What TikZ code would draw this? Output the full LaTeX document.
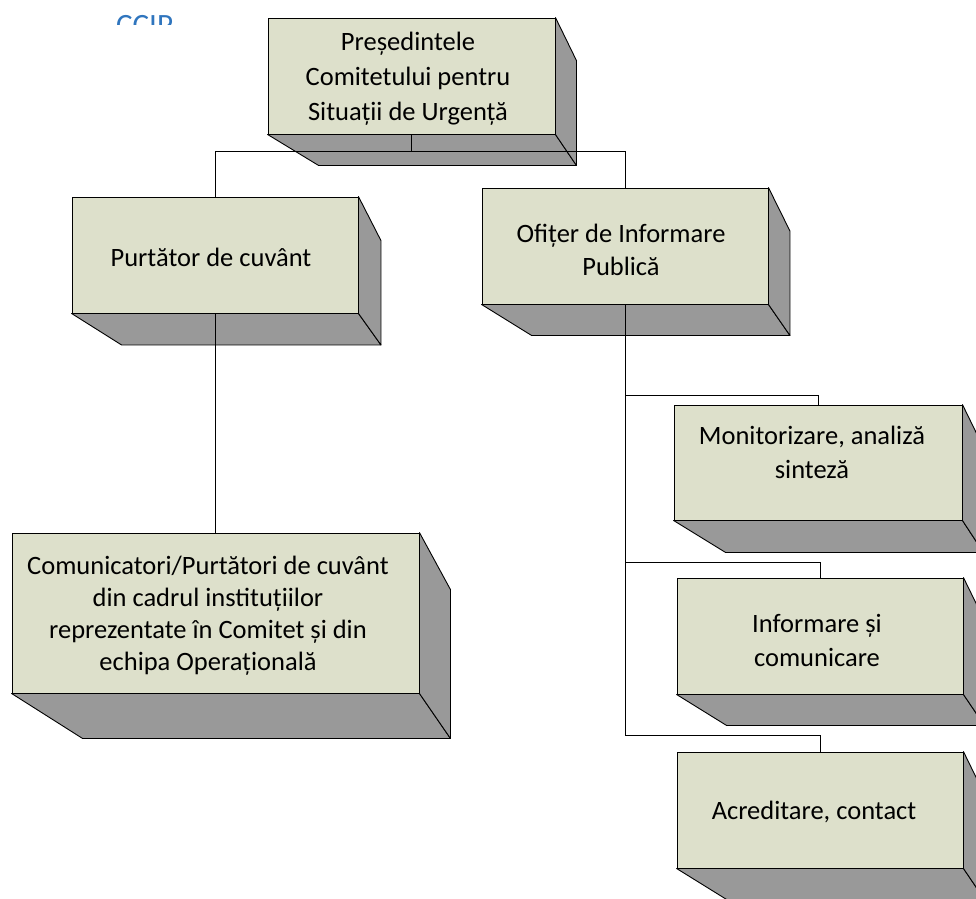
\documentclass[tikz,border=0pt]{standalone}
\usepackage{fontspec}
\setmainfont{Carlito}
\usetikzlibrary{calc}
\definecolor{frontc}{RGB}{221,224,203}
\definecolor{sidec}{RGB}{153,153,153}
\definecolor{hdrblue}{RGB}{47,117,190}
\tikzset{
  front/.style={draw=black, fill=frontc, line width=0.9pt, rectangle, inner sep=0pt},
  face/.style={draw=black, fill=sidec, line width=0.9pt, line join=round},
  lbl/.style={align=center, inner sep=0pt, font=\fontsize{26.5}{33}\selectfont, text=black},
  conn/.style={draw=black, line width=0.9pt}
}
% #1 node name, #2 dxL, #3 depth, #4 dxR, #5 top drop
\newcommand{\boxfaces}[5]{%
  \draw[face] (#1.south west) -- ++(#2,#3) -- ($(#1.south east)+(#4,#3)$) -- (#1.south east) -- cycle;
  \draw[face] (#1.north east) -- ++(#4,#5) -- ($(#1.south east)+(#4,#3)$) -- (#1.south east) -- cycle;
}
\begin{document}
\begin{tikzpicture}[x=1pt,y=-1pt]
\useasboundingbox (0,0) rectangle (976,898);
\clip (0,0) rectangle (976,898);
\fill[white] (0,0) rectangle (976,898);

% header (cut off)
\begin{scope}
  \clip (0,0) rectangle (976,24);
  \node[anchor=base west, inner sep=0pt, text=hdrblue, font=\fontsize{31}{36}\selectfont] (hdr) at (116,35) {CCIP};
\end{scope}

% boxes
\node[front, minimum width=287pt, minimum height=116pt] (b1) at (411.5,76) {};
\boxfaces{b1}{51}{31}{21}{43}
\node[front, minimum width=286pt, minimum height=116pt] (b2) at (215,255) {};
\boxfaces{b2}{50}{31.5}{22.5}{44}
\node[front, minimum width=286pt, minimum height=116pt] (b3) at (625,246) {};
\boxfaces{b3}{50}{31}{21.5}{43.5}
\node[front, minimum width=407pt, minimum height=160pt] (b4) at (215.5,613) {};
\boxfaces{b4}{71}{45}{31}{57}
\node[front, minimum width=288pt, minimum height=115pt] (b5) at (818,462.5) {};
\boxfaces{b5}{52}{32}{21}{43}
\node[front, minimum width=286pt, minimum height=116pt] (b6) at (820,636) {};
\boxfaces{b6}{50}{31}{21}{43}
\node[front, minimum width=286pt, minimum height=116pt] (b7) at (820,810) {};
\boxfaces{b7}{50}{31}{21}{43}

% labels
\node[lbl, font=\fontsize{26.5}{35}\selectfont] (t1) at (408,79) {Președintele\\Comitetului pentru\\Situații de Urgență};
\node[lbl] (t2) at (211,257) {Purtător de cuvânt};
\node[lbl] (t3) at (621,250) {Ofițer de Informare\\Publică};
\node[lbl, font=\fontsize{26.5}{32}\selectfont] (t4) at (208,616) {Comunicatori/Purtători de cuvânt\\din cadrul instituțiilor\\reprezentate în Comitet și din\\echipa Operațională};
\node[lbl, font=\fontsize{26.5}{34}\selectfont] (t5) at (812,452) {Monitorizare, analiză\\sinteză};
\node[lbl, font=\fontsize{26.5}{34}\selectfont] (t6) at (817,640) {Informare și\\comunicare};
\node[lbl] (t7) at (814,812) {Acreditare, contact};

% connectors
\coordinate (j1) at (411.5,151);
\draw[conn] (b1.south) -- (j1);
\draw[conn] (j1) -| (b2.north);
\draw[conn] (j1) -| (b3.north);
\draw[conn] (b2.south) -- (b2.south |- b4.north);
\coordinate (k5) at (818,395);
\coordinate (k6) at (820,562);
\coordinate (k7) at (820,735);
\draw[conn] (b3.south) |- (k5) -- (b5.north);
\draw[conn] (b3.south) |- (k6) -- (b6.north);
\draw[conn] (b3.south) |- (k7) -- (b7.north);
\end{tikzpicture}
\end{document}
